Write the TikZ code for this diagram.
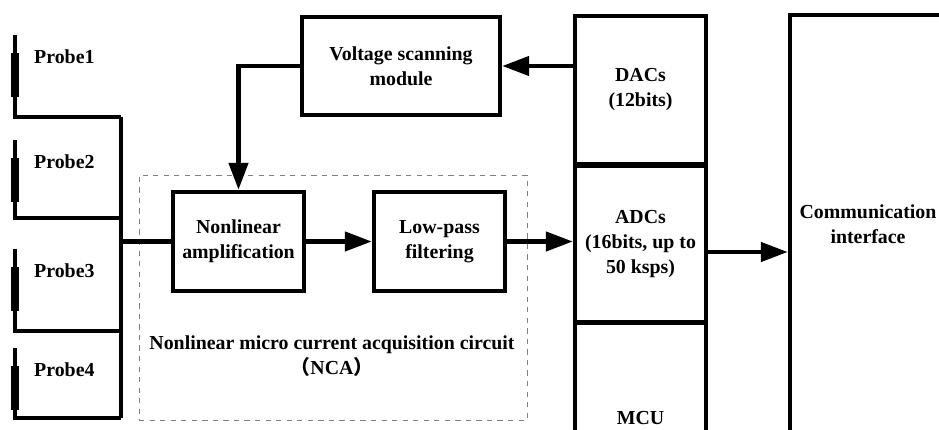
\documentclass[tikz,border=0pt]{standalone}
\usepackage{fontspec}
\setmainfont{Liberation Serif}
\newfontfamily\cjk{Noto Sans CJK SC}
\usetikzlibrary{arrows.meta}
\tikzset{
	block/.style={draw, line width=2.5pt, align=center, inner sep=0pt,
		font=\fontsize{11.3}{14.2}\selectfont\bfseries},
	wire/.style={line width=1.9pt},
	arr/.style={line width=2.5pt, -{Triangle[length=0.54cm,width=0.38cm]}},
	probe/.style={fill, minimum width=0.18cm, minimum height=0.88cm, inner sep=0pt},
	lbl/.style={font=\fontsize{11.3}{14.2}\selectfont\bfseries, align=center}
}
\begin{document}
\begin{tikzpicture}[x=0.02cm, y=-0.02cm]
	\useasboundingbox (0,0) rectangle (939,429);
	\clip (0,0) rectangle (939,429);

	% probes on the common bus
	\foreach \i/\t/\h in {1/35/117, 2/140/218, 3/249/331, 4/348/418} {
		\coordinate (t\i) at (15,\t);
		\coordinate (h\i) at (121,\h);
		\node [probe] (p\i) at (15,\t+40) {};
		\node [lbl, anchor=west] (l\i) at (28,\t+22) {Probe\i};
		\draw [wire] (t\i) -- (p\i.north);
		\draw [wire] (p\i.south) |- (h\i);
	}
	\draw [wire, line width=2.3pt] (h1) -- (h4);
	\coordinate (bus) at (121,241.5);

	% NCA frame
	\node [draw=gray, dashed, line width=0.5pt, minimum width=7.76cm, minimum height=4.9cm] (nca) at (333,297.5) {};
	\node [lbl] (ncalbl) at (332,356) {Nonlinear micro current acquisition circuit\\{\cjk （}NCA{\cjk ）}};

	\node [block, minimum width=2.62cm, minimum height=1.98cm] (amp) at (238.5,241.5) {Nonlinear\\amplification};
	\node [block, minimum width=2.62cm, minimum height=1.98cm] (lpf) at (439.5,241.5) {Low-pass\\filtering};
	\node [block, minimum width=3.96cm, minimum height=1.96cm] (vsm) at (401,66) {Voltage scanning\\module};

	% MCU column
	\node [block, minimum width=2.62cm, minimum height=2.96cm] (dac) at (640.5,90) {DACs\\(12bits)};
	\node [block, minimum width=2.62cm, minimum height=3.12cm] (adc) at (640.5,244) {ADCs\\(16bits, up to\\50 ksps)};
	\node [block, minimum width=2.62cm, minimum height=3.8cm] (mcu) at (640.5,418) {MCU};
	\node [block, minimum width=3.12cm, minimum height=8.36cm] (comm) at (868,224) {Communication\\interface};

	\draw [arr] (dac.west |- vsm.east) -- (vsm.east);
	\draw [arr] (vsm.west) -| (amp.north);
	\draw [line width=2.5pt] (bus) -- (amp.west);
	\draw [arr] (amp.east) -- (lpf.west);
	\draw [arr] (lpf.east) -- (adc.west |- lpf.east);
	\draw [arr] ([yshift=-0.16cm]adc.east) -- ([yshift=-0.16cm]adc.east -| comm.west);
\end{tikzpicture}
\end{document}
